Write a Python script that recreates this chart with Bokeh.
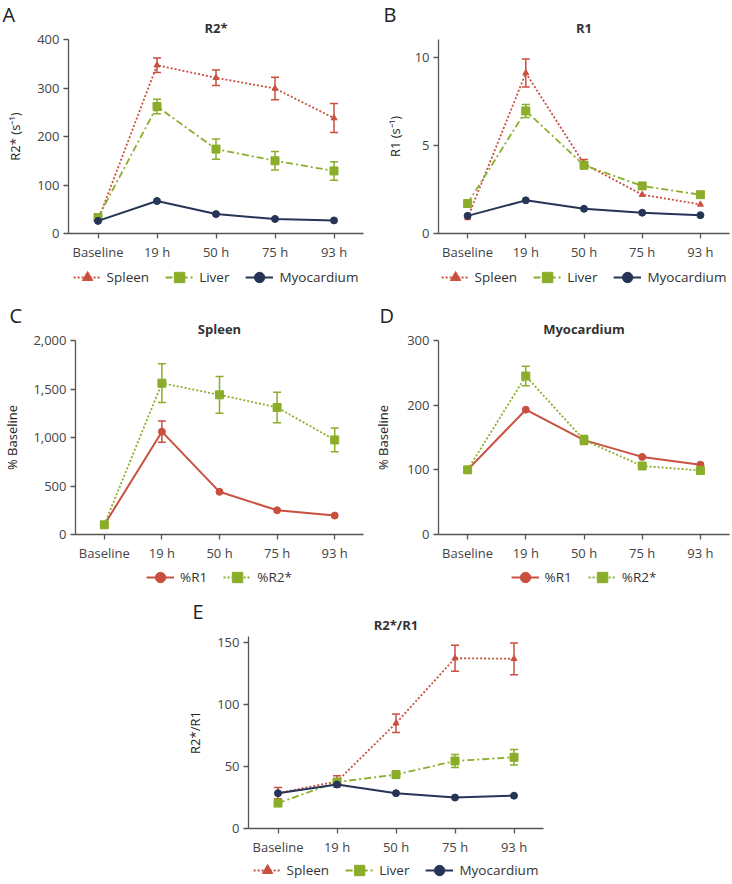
from bokeh.plotting import figure
from bokeh.models import (ColumnDataSource, Whisker, TeeHead, Legend, LegendItem,
                          Range1d, NumeralTickFormatter, Spacer, Title)
from bokeh.layouts import row, column
from bokeh.embed import file_html
from bokeh.resources import INLINE

# ---------------- data ----------------
cats = ["Baseline", "19 h", "50 h", "75 h", "93 h"]

# A: R2* (s^-1)
a_spleen = [27, 347, 321, 299, 238]
a_spleen_err = [0, 15, 16, 23, 30]
a_liver = [33, 262, 174, 150, 129]
a_liver_err = [3, 15, 21, 19, 19]
a_myo = [26, 67, 40, 30, 27]
a_ticks = [0, 100, 200, 300, 400]

# B: R1 (s^-1)
b_spleen = [0.88, 9.1, 3.95, 2.2, 1.65]
b_spleen_err = [0, 0.8, 0.25, 0, 0]
b_liver = [1.7, 6.95, 3.87, 2.7, 2.2]
b_liver_err = [0, 0.37, 0.2, 0, 0]
b_myo = [1.0, 1.88, 1.4, 1.18, 1.04]
b_ticks = [0, 5, 10]

# C: Spleen % baseline
c_r1 = [100, 1060, 440, 250, 195]
c_r1_err = [0, 110, 0, 0, 0]
c_r2 = [100, 1560, 1440, 1310, 975]
c_r2_err = [0, 200, 190, 157, 123]
c_ticks = [0, 500, 1000, 1500, 2000]

# D: Myocardium % baseline
d_r1 = [100, 193, 146, 120, 108]
d_r2 = [100, 245, 146, 106, 99]
d_r2_err = [0, 15, 7, 0, 0]
d_ticks = [0, 100, 200, 300]

# E: R2*/R1
e_spleen = [28.5, 38, 85, 137.5, 137]
e_spleen_err = [4.5, 4.5, 7.5, 10.5, 12.8]
e_liver = [20.5, 37.5, 43.5, 54.5, 57.5]
e_liver_err = [1.5, 0, 3, 5.3, 6.3]
e_myo = [28.5, 35.5, 28.5, 25, 26.5]
e_ticks = [0, 50, 100, 150]

# ---------------- styles ----------------
FONT = "Open Sans"
RED = "#c9503f"
GREEN = "#8aae2a"
NAVY = "#263458"
AXIS = "#555555"

STYLE = {
    "Spleen": dict(color=RED, dash="2 2", lw=1.8, marker="triangle", size=6),
    "Liver": dict(color=GREEN, dash="7 3 2 3", lw=1.8, marker="square", size=8),
    "Myocardium": dict(color=NAVY, dash="solid", lw=2.0, marker="circle", size=7),
    "%R1": dict(color=RED, dash="solid", lw=2.0, marker="circle", size=7),
    "%R2*": dict(color=GREEN, dash="2 2", lw=1.8, marker="square", size=8),
}


def panel(title, letter, ylabel, ymax, ticks, series, left, fw, right, top, fh,
          bottom, leg_h, label_standoff, letter_x, comma=False):
    width = left + fw + right

    p = figure(x_range=cats, y_range=Range1d(0, ymax),
               width=width, height=top + fh + bottom,
               min_border_left=left, min_border_right=right,
               min_border_top=top, min_border_bottom=bottom,
               output_backend="svg", toolbar_location=None)
    # panel title (inner) and panel letter (outer), both in the top side panel
    p.add_layout(Title(text=title, align="center", text_font=FONT,
                       text_font_size="13px", text_font_style="bold",
                       text_color="#333333", standoff=6), "above")
    p.add_layout(Title(text=letter, align="left", offset=letter_x - left,
                       text_font=FONT, text_font_size="20px",
                       text_font_style="normal", text_color="#222222",
                       standoff=-28), "above")
    p.xgrid.visible = False
    p.ygrid.visible = False
    p.outline_line_color = None
    p.background_fill_color = None
    p.border_fill_color = None
    for ax in (p.xaxis[0], p.yaxis[0]):
        ax.axis_line_color = AXIS
        ax.axis_line_width = 1.3
        ax.major_tick_line_color = AXIS
        ax.major_tick_line_width = 1.3
        ax.major_tick_out = 5
        ax.major_tick_in = 0
        ax.minor_tick_out = 0
        ax.minor_tick_in = 0
        ax.major_label_text_font = FONT
        ax.major_label_text_font_size = "13px"
        ax.major_label_text_color = "#444444"
        ax.major_label_standoff = 4
    p.yaxis.ticker = ticks
    if comma:
        p.yaxis.formatter = NumeralTickFormatter(format="0,0")
    p.yaxis.axis_label = ylabel
    p.yaxis.axis_label_text_font = FONT
    p.yaxis.axis_label_text_font_size = "13px"
    p.yaxis.axis_label_text_font_style = "normal"
    p.yaxis.axis_label_text_color = "#222222"
    p.yaxis.axis_label_standoff = label_standoff

    # legend strip (its frame is aligned with the plot frame above it)
    leg = figure(width=width, height=leg_h, x_range=Range1d(-2, -1),
                 y_range=Range1d(-2, -1), min_border_left=left,
                 min_border_right=right, min_border_top=0, min_border_bottom=0,
                 x_axis_location=None, y_axis_location=None,
                 output_backend="svg", toolbar_location=None)
    leg.grid.visible = False
    leg.outline_line_color = None
    leg.background_fill_color = None
    leg.border_fill_color = None

    items = []
    for name, vals, errs in series:
        st = STYLE[name]
        src = ColumnDataSource(dict(x=cats, y=vals))
        p.line("x", "y", source=src, line_color=st["color"],
               line_width=st["lw"], line_dash=st["dash"])
        p.scatter("x", "y", source=src, marker=st["marker"], size=st["size"],
                  fill_color=st["color"], line_color=st["color"])
        if errs is not None:
            xs = [c for c, e in zip(cats, errs) if e > 0]
            lo = [v - e for v, e in zip(vals, errs) if e > 0]
            hi = [v + e for v, e in zip(vals, errs) if e > 0]
            wsrc = ColumnDataSource(dict(x=xs, lo=lo, hi=hi))
            w = Whisker(source=wsrc, base="x", lower="lo", upper="hi",
                        line_color=st["color"], line_width=1.5,
                        upper_head=TeeHead(size=8, line_color=st["color"], line_width=1.5),
                        lower_head=TeeHead(size=8, line_color=st["color"], line_width=1.5))
            p.add_layout(w)
        # legend-only renderers: the series values lie outside this strip's ranges
        lsrc = ColumnDataSource(dict(x=vals, y=vals))
        lr = leg.line("x", "y", source=lsrc, line_color=st["color"],
                      line_width=st["lw"], line_dash=st["dash"])
        sr = leg.scatter("x", "y", source=lsrc, marker=st["marker"],
                         fill_color=st["color"], line_color=st["color"])
        items.append(LegendItem(label=name, renderers=[lr, sr], index=0))

    lg = Legend(items=items, orientation="horizontal", location="center",
                glyph_width=28, glyph_height=26, padding=0, margin=0, spacing=16,
                label_standoff=6, border_line_color=None, background_fill_alpha=0,
                label_text_font=FONT, label_text_font_size="13.5px",
                label_text_color="#333333")
    leg.add_layout(lg)
    return column(p, leg)


pA = panel("R2*", "A", "R2* (s\u207b\u00b9)", 400, a_ticks,
           [("Spleen", a_spleen, a_spleen_err), ("Liver", a_liver, a_liver_err),
            ("Myocardium", a_myo, None)],
           left=68, fw=295, right=3, top=39, fh=196, bottom=28, leg_h=28,
           label_standoff=10, letter_x=2)
pB = panel("R1", "B", "R1 (s\u207b\u00b9)", 11, b_ticks,
           [("Spleen", b_spleen, b_spleen_err), ("Liver", b_liver, b_liver_err),
            ("Myocardium", b_myo, None)],
           left=72, fw=291, right=3, top=39, fh=196, bottom=28, leg_h=28,
           label_standoff=8, letter_x=17)
pC = panel("Spleen", "C", "% Baseline", 2000, c_ticks,
           [("%R1", c_r1, c_r1_err), ("%R2*", c_r2, c_r2_err)],
           left=68, fw=295, right=3, top=49, fh=196, bottom=28, leg_h=26,
           label_standoff=9, letter_x=2, comma=True)
pD = panel("Myocardium", "D", "% Baseline", 300, d_ticks,
           [("%R1", d_r1, None), ("%R2*", d_r2, d_r2_err)],
           left=72, fw=291, right=3, top=49, fh=196, bottom=28, leg_h=26,
           label_standoff=12, letter_x=13)
pE = panel("R2*/R1", "E", "R2*/R1", 155, e_ticks,
           [("Spleen", e_spleen, e_spleen_err), ("Liver", e_liver, e_liver_err),
            ("Myocardium", e_myo, None)],
           left=68, fw=295, right=3, top=46, fh=194, bottom=28, leg_h=24,
           label_standoff=10, letter_x=12)

layout = column(row(pA, pB), row(pC, pD), row(Spacer(width=180, height=10), pE))

open("out.html", "w").write(file_html(layout, INLINE))
